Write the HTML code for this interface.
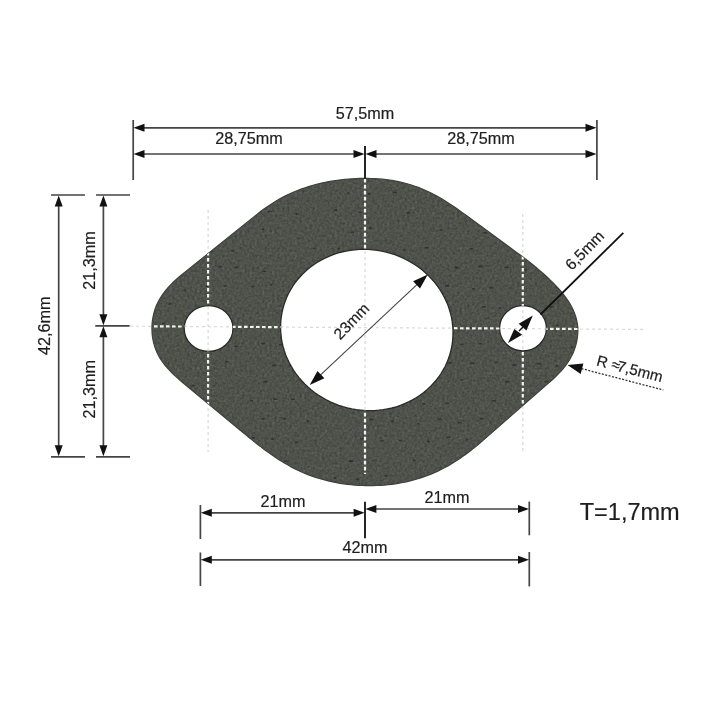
<!DOCTYPE html>
<html><head><meta charset="utf-8"><style>
html,body{margin:0;padding:0;background:#fff;width:720px;height:720px;overflow:hidden}
svg{display:block;will-change:transform;font-family:"Liberation Sans", sans-serif}
</style></head><body>
<svg width="720" height="720" viewBox="0 0 720 720"><g stroke="#d9d9d9" stroke-width="1.2" fill="none" stroke-dasharray="3 3"><line x1="130" y1="326.2" x2="644" y2="329.4"/><line x1="208.1" y1="210" x2="208.1" y2="452"/><line x1="522.8" y1="214" x2="522.8" y2="454"/><line x1="365" y1="179" x2="365" y2="474"/></g>
<defs><clipPath id="gc"><path d="M344.8 179.4 L348.5 179.0 L352.2 178.8 L356.0 178.6 L359.8 178.4 L363.5 178.4 L367.3 178.4 L371.1 178.5 L374.8 178.6 L378.6 178.9 L382.3 179.2 L386.0 179.6 L389.7 180.1 L393.4 180.7 L397.1 181.4 L400.7 182.2 L404.3 183.0 L407.9 184.0 L411.4 185.0 L414.9 186.2 L418.3 187.4 L421.7 188.8 L425.1 190.2 L428.4 191.7 L431.6 193.3 L434.9 195.0 L438.1 196.8 L441.3 198.6 L444.4 200.5 L447.5 202.5 L450.6 204.5 L453.7 206.5 L456.7 208.6 L459.7 210.8 L462.7 212.9 L465.7 215.1 L516.6 252.4 L519.6 254.5 L522.5 256.7 L525.4 259.0 L528.4 261.2 L531.3 263.5 L534.1 265.8 L537.0 268.2 L539.8 270.6 L542.6 273.0 L545.4 275.5 L548.1 278.0 L550.8 280.6 L553.4 283.2 L556.0 285.9 L558.6 288.7 L561.0 291.5 L563.4 294.4 L565.6 297.3 L567.8 300.4 L569.7 303.4 L571.5 306.6 L573.1 309.8 L574.5 313.1 L575.7 316.5 L576.6 319.9 L577.3 323.4 L577.8 327.0 L577.9 330.7 L577.7 334.4 L577.3 338.2 L576.6 342.0 L575.7 345.7 L574.5 349.4 L573.1 352.9 L571.4 356.3 L569.6 359.6 L567.6 362.7 L565.5 365.7 L563.2 368.5 L560.8 371.3 L558.3 373.9 L555.7 376.5 L553.1 379.0 L550.3 381.5 L547.6 383.9 L483.6 439.9 L480.8 442.3 L477.9 444.7 L475.1 447.1 L472.2 449.4 L469.2 451.7 L466.2 453.9 L463.2 456.1 L460.2 458.2 L457.1 460.3 L453.9 462.3 L450.8 464.2 L447.6 466.1 L444.3 467.8 L441.1 469.5 L437.8 471.2 L434.4 472.7 L431.0 474.1 L427.6 475.5 L424.1 476.7 L420.6 477.9 L417.1 479.0 L413.6 480.0 L410.0 480.9 L406.4 481.8 L402.8 482.5 L399.2 483.2 L395.5 483.8 L391.8 484.3 L388.2 484.7 L384.5 485.1 L380.8 485.3 L377.0 485.5 L373.3 485.6 L369.6 485.7 L365.9 485.6 L362.2 485.5 L358.5 485.3 L354.8 485.1 L351.1 484.7 L347.4 484.3 L343.7 483.8 L340.0 483.3 L336.4 482.6 L332.7 481.9 L329.1 481.1 L325.5 480.2 L321.9 479.2 L318.4 478.2 L314.9 477.1 L311.4 475.9 L307.9 474.6 L304.5 473.2 L301.1 471.7 L297.8 470.2 L294.5 468.6 L291.2 466.9 L288.0 465.1 L284.8 463.2 L281.6 461.3 L278.5 459.4 L275.4 457.3 L272.4 455.2 L269.3 453.1 L266.3 450.9 L263.3 448.7 L260.4 446.4 L257.4 444.2 L254.5 441.9 L251.6 439.6 L248.7 437.2 L245.9 434.9 L243.0 432.5 L183.2 383.0 L180.3 380.6 L177.6 378.1 L174.8 375.6 L172.1 373.1 L169.6 370.4 L167.1 367.7 L164.7 364.9 L162.5 362.0 L160.4 359.0 L158.6 355.8 L157.0 352.5 L155.6 349.1 L154.4 345.6 L153.5 342.1 L152.7 338.4 L152.2 334.7 L152.0 331.0 L151.9 327.3 L152.1 323.6 L152.5 319.9 L153.2 316.2 L154.0 312.6 L155.1 309.0 L156.4 305.6 L158.0 302.2 L159.7 299.0 L161.7 295.9 L163.8 292.9 L166.1 289.9 L168.5 287.1 L171.1 284.4 L173.7 281.8 L176.5 279.3 L179.3 276.8 L182.1 274.5 L254.4 216.4 L257.3 214.1 L260.2 211.8 L263.2 209.6 L266.2 207.5 L269.2 205.4 L272.3 203.4 L275.4 201.4 L278.5 199.6 L281.7 197.8 L285.0 196.1 L288.2 194.5 L291.5 193.0 L294.9 191.5 L298.2 190.2 L301.7 188.9 L305.1 187.7 L308.6 186.6 L312.1 185.5 L315.6 184.5 L319.2 183.7 L322.8 182.8 L326.4 182.1 L330.0 181.4 L333.7 180.8 L337.3 180.3 L341.0 179.8Z M450.8 351.0 L449.7 355.0 L448.3 359.0 L446.8 362.9 L445.0 366.7 L442.9 370.4 L440.7 374.0 L438.3 377.5 L435.7 380.8 L432.8 384.0 L429.9 387.1 L426.7 390.0 L423.4 392.7 L419.9 395.3 L416.2 397.7 L412.5 399.9 L408.6 401.9 L404.6 403.7 L400.5 405.3 L396.3 406.8 L392.0 408.0 L387.6 408.9 L383.2 409.7 L378.8 410.2 L374.3 410.6 L369.8 410.7 L365.3 410.6 L360.8 410.2 L356.3 409.7 L351.8 408.9 L347.4 407.9 L343.0 406.7 L338.7 405.3 L334.5 403.7 L330.3 401.9 L326.3 399.8 L322.4 397.6 L318.6 395.2 L314.9 392.7 L311.3 389.9 L308.0 387.0 L304.7 383.9 L301.7 380.7 L298.8 377.4 L296.1 373.9 L293.6 370.3 L291.4 366.6 L289.3 362.8 L287.4 358.8 L285.7 354.9 L284.3 350.8 L283.1 346.7 L282.1 342.6 L281.4 338.4 L280.9 334.2 L280.6 329.9 L280.6 325.7 L280.8 321.5 L281.2 317.3 L281.9 313.2 L282.8 309.0 L283.9 305.0 L285.3 301.0 L286.8 297.1 L288.6 293.3 L290.7 289.6 L292.9 286.0 L295.3 282.5 L297.9 279.2 L300.8 276.0 L303.7 272.9 L306.9 270.0 L310.2 267.3 L313.7 264.7 L317.4 262.3 L321.1 260.1 L325.0 258.1 L329.0 256.3 L333.1 254.7 L337.3 253.2 L341.6 252.0 L346.0 251.1 L350.4 250.3 L354.8 249.8 L359.3 249.4 L363.8 249.3 L368.3 249.4 L372.8 249.8 L377.3 250.3 L381.8 251.1 L386.2 252.1 L390.6 253.3 L394.9 254.7 L399.1 256.3 L403.3 258.1 L407.3 260.2 L411.2 262.4 L415.0 264.8 L418.7 267.3 L422.3 270.1 L425.6 273.0 L428.9 276.1 L431.9 279.3 L434.8 282.6 L437.5 286.1 L440.0 289.7 L442.2 293.4 L444.3 297.2 L446.2 301.2 L447.9 305.1 L449.3 309.2 L450.5 313.3 L451.5 317.4 L452.2 321.6 L452.7 325.8 L453.0 330.1 L453.0 334.3 L452.8 338.5 L452.4 342.7 L451.7 346.8Z M184.2 328.5 a24.4 22.9 0 1 0 48.8 0 a24.4 22.9 0 1 0 -48.8 0Z M499.6 328.3 a23.4 22.6 0 1 0 46.8 0 a23.4 22.6 0 1 0 -46.8 0Z" clip-rule="evenodd"/></clipPath><filter id="nz" x="0" y="0" width="1" height="1" color-interpolation-filters="sRGB"><feTurbulence type="fractalNoise" baseFrequency="0.4" numOctaves="3" seed="5"/><feColorMatrix type="matrix" values="0.100 0.100 0.100 0 0.1559  0.100 0.100 0.100 0 0.1716  0.100 0.100 0.100 0 0.1441  0 0 0 0 1"/></filter></defs>
<g clip-path="url(#gc)"><rect x="140" y="170" width="450" height="330" filter="url(#nz)"/>
<g fill="#262824" opacity="0.7"><rect x="168.6" y="192.2" width="2.6" height="1.6" rx="0.6"/><rect x="194.1" y="189.2" width="2.6" height="1.6" rx="0.6"/><rect x="263.6" y="192.5" width="4.5" height="1.6" rx="0.6"/><rect x="278.4" y="194.2" width="2.8" height="1.6" rx="0.6"/><rect x="347.0" y="192.3" width="2.6" height="1.6" rx="0.6"/><rect x="367.6" y="193.1" width="3.1" height="1.6" rx="0.6"/><rect x="392.7" y="191.7" width="4.1" height="1.6" rx="0.6"/><rect x="456.3" y="194.9" width="3.3" height="1.6" rx="0.6"/><rect x="482.1" y="189.9" width="2.6" height="1.6" rx="0.6"/><rect x="546.8" y="192.5" width="4.2" height="1.6" rx="0.6"/><rect x="186.9" y="212.9" width="3.3" height="1.6" rx="0.6"/><rect x="206.3" y="208.1" width="2.8" height="1.6" rx="0.6"/><rect x="246.0" y="209.5" width="4.2" height="1.6" rx="0.6"/><rect x="267.6" y="210.7" width="4.3" height="1.6" rx="0.6"/><rect x="295.6" y="213.2" width="3.3" height="1.6" rx="0.6"/><rect x="334.2" y="209.1" width="3.0" height="1.6" rx="0.6"/><rect x="358.9" y="211.5" width="2.5" height="1.6" rx="0.6"/><rect x="406.6" y="212.1" width="3.7" height="1.6" rx="0.6"/><rect x="468.1" y="210.4" width="3.8" height="1.6" rx="0.6"/><rect x="487.5" y="208.4" width="2.8" height="1.6" rx="0.6"/><rect x="511.7" y="208.3" width="2.8" height="1.6" rx="0.6"/><rect x="531.8" y="210.2" width="4.2" height="1.6" rx="0.6"/><rect x="557.9" y="208.9" width="3.2" height="1.6" rx="0.6"/><rect x="153.9" y="229.8" width="2.7" height="1.6" rx="0.6"/><rect x="168.8" y="229.1" width="4.2" height="1.6" rx="0.6"/><rect x="216.2" y="227.9" width="2.6" height="1.6" rx="0.6"/><rect x="261.6" y="228.6" width="2.8" height="1.6" rx="0.6"/><rect x="350.5" y="231.4" width="3.5" height="1.6" rx="0.6"/><rect x="368.8" y="227.2" width="3.1" height="1.6" rx="0.6"/><rect x="439.6" y="229.2" width="3.0" height="1.6" rx="0.6"/><rect x="483.2" y="232.0" width="3.8" height="1.6" rx="0.6"/><rect x="184.8" y="247.0" width="2.8" height="1.6" rx="0.6"/><rect x="208.2" y="250.8" width="4.2" height="1.6" rx="0.6"/><rect x="230.8" y="249.9" width="3.6" height="1.6" rx="0.6"/><rect x="312.7" y="247.5" width="3.0" height="1.6" rx="0.6"/><rect x="337.7" y="247.6" width="2.8" height="1.6" rx="0.6"/><rect x="362.3" y="248.1" width="3.7" height="1.6" rx="0.6"/><rect x="403.0" y="249.2" width="2.5" height="1.6" rx="0.6"/><rect x="424.5" y="247.1" width="4.1" height="1.6" rx="0.6"/><rect x="469.5" y="248.0" width="3.6" height="1.6" rx="0.6"/><rect x="149.6" y="268.2" width="4.4" height="1.6" rx="0.6"/><rect x="218.7" y="265.8" width="3.4" height="1.6" rx="0.6"/><rect x="234.6" y="266.4" width="3.8" height="1.6" rx="0.6"/><rect x="262.3" y="270.4" width="3.9" height="1.6" rx="0.6"/><rect x="350.7" y="266.0" width="3.5" height="1.6" rx="0.6"/><rect x="368.7" y="266.2" width="3.9" height="1.6" rx="0.6"/><rect x="388.2" y="268.3" width="2.5" height="1.6" rx="0.6"/><rect x="412.7" y="268.7" width="2.6" height="1.6" rx="0.6"/><rect x="454.8" y="266.6" width="4.1" height="1.6" rx="0.6"/><rect x="478.2" y="265.8" width="4.3" height="1.6" rx="0.6"/><rect x="504.6" y="266.6" width="4.3" height="1.6" rx="0.6"/><rect x="524.6" y="269.2" width="2.6" height="1.6" rx="0.6"/><rect x="547.5" y="267.6" width="4.4" height="1.6" rx="0.6"/><rect x="569.1" y="269.8" width="4.2" height="1.6" rx="0.6"/><rect x="157.5" y="289.2" width="3.2" height="1.6" rx="0.6"/><rect x="183.4" y="289.6" width="2.8" height="1.6" rx="0.6"/><rect x="205.2" y="285.4" width="2.8" height="1.6" rx="0.6"/><rect x="223.4" y="285.2" width="3.1" height="1.6" rx="0.6"/><rect x="251.1" y="285.7" width="2.9" height="1.6" rx="0.6"/><rect x="269.8" y="284.1" width="2.5" height="1.6" rx="0.6"/><rect x="294.9" y="287.3" width="3.4" height="1.6" rx="0.6"/><rect x="404.7" y="287.8" width="3.2" height="1.6" rx="0.6"/><rect x="421.4" y="284.8" width="4.0" height="1.6" rx="0.6"/><rect x="445.0" y="285.0" width="4.2" height="1.6" rx="0.6"/><rect x="472.0" y="288.0" width="3.0" height="1.6" rx="0.6"/><rect x="489.3" y="286.8" width="3.4" height="1.6" rx="0.6"/><rect x="555.5" y="286.1" width="3.3" height="1.6" rx="0.6"/><rect x="578.8" y="287.0" width="3.5" height="1.6" rx="0.6"/><rect x="146.0" y="304.6" width="3.3" height="1.6" rx="0.6"/><rect x="168.3" y="303.1" width="3.0" height="1.6" rx="0.6"/><rect x="323.1" y="306.1" width="4.2" height="1.6" rx="0.6"/><rect x="389.8" y="303.2" width="3.2" height="1.6" rx="0.6"/><rect x="482.0" y="306.0" width="3.8" height="1.6" rx="0.6"/><rect x="498.5" y="307.4" width="2.6" height="1.6" rx="0.6"/><rect x="522.1" y="307.4" width="4.0" height="1.6" rx="0.6"/><rect x="549.8" y="306.0" width="3.5" height="1.6" rx="0.6"/><rect x="162.1" y="322.5" width="3.0" height="1.6" rx="0.6"/><rect x="201.1" y="322.4" width="3.8" height="1.6" rx="0.6"/><rect x="228.5" y="326.1" width="3.5" height="1.6" rx="0.6"/><rect x="248.7" y="324.8" width="4.3" height="1.6" rx="0.6"/><rect x="318.7" y="324.7" width="2.9" height="1.6" rx="0.6"/><rect x="378.1" y="326.9" width="4.3" height="1.6" rx="0.6"/><rect x="424.9" y="322.1" width="3.5" height="1.6" rx="0.6"/><rect x="446.6" y="323.8" width="3.2" height="1.6" rx="0.6"/><rect x="467.5" y="327.0" width="4.0" height="1.6" rx="0.6"/><rect x="514.7" y="327.4" width="3.2" height="1.6" rx="0.6"/><rect x="555.9" y="324.6" width="2.6" height="1.6" rx="0.6"/><rect x="575.8" y="327.0" width="4.4" height="1.6" rx="0.6"/><rect x="148.0" y="342.6" width="2.9" height="1.6" rx="0.6"/><rect x="234.4" y="345.4" width="4.0" height="1.6" rx="0.6"/><rect x="261.2" y="342.7" width="4.4" height="1.6" rx="0.6"/><rect x="279.0" y="343.8" width="3.1" height="1.6" rx="0.6"/><rect x="305.9" y="346.9" width="3.8" height="1.6" rx="0.6"/><rect x="324.4" y="344.3" width="2.8" height="1.6" rx="0.6"/><rect x="396.0" y="343.7" width="2.9" height="1.6" rx="0.6"/><rect x="410.7" y="343.1" width="3.0" height="1.6" rx="0.6"/><rect x="460.0" y="343.5" width="3.5" height="1.6" rx="0.6"/><rect x="479.0" y="343.0" width="3.1" height="1.6" rx="0.6"/><rect x="505.7" y="341.8" width="3.8" height="1.6" rx="0.6"/><rect x="526.9" y="342.3" width="3.0" height="1.6" rx="0.6"/><rect x="570.8" y="346.2" width="2.6" height="1.6" rx="0.6"/><rect x="162.7" y="365.4" width="3.7" height="1.6" rx="0.6"/><rect x="225.0" y="360.7" width="3.5" height="1.6" rx="0.6"/><rect x="272.2" y="364.6" width="3.6" height="1.6" rx="0.6"/><rect x="289.3" y="364.7" width="4.3" height="1.6" rx="0.6"/><rect x="316.2" y="361.8" width="3.0" height="1.6" rx="0.6"/><rect x="338.1" y="364.2" width="2.6" height="1.6" rx="0.6"/><rect x="359.2" y="363.5" width="2.9" height="1.6" rx="0.6"/><rect x="381.8" y="360.1" width="3.4" height="1.6" rx="0.6"/><rect x="424.8" y="361.4" width="4.4" height="1.6" rx="0.6"/><rect x="448.6" y="361.8" width="3.5" height="1.6" rx="0.6"/><rect x="470.4" y="362.5" width="3.8" height="1.6" rx="0.6"/><rect x="494.4" y="361.4" width="3.2" height="1.6" rx="0.6"/><rect x="512.4" y="364.1" width="4.1" height="1.6" rx="0.6"/><rect x="536.9" y="363.0" width="4.4" height="1.6" rx="0.6"/><rect x="555.5" y="364.9" width="2.9" height="1.6" rx="0.6"/><rect x="150.0" y="380.1" width="3.3" height="1.6" rx="0.6"/><rect x="173.3" y="384.7" width="3.3" height="1.6" rx="0.6"/><rect x="191.7" y="384.8" width="2.6" height="1.6" rx="0.6"/><rect x="263.5" y="381.0" width="4.4" height="1.6" rx="0.6"/><rect x="303.0" y="381.2" width="2.8" height="1.6" rx="0.6"/><rect x="322.0" y="380.7" width="4.4" height="1.6" rx="0.6"/><rect x="345.0" y="384.8" width="3.2" height="1.6" rx="0.6"/><rect x="372.6" y="383.9" width="2.6" height="1.6" rx="0.6"/><rect x="460.1" y="379.2" width="2.6" height="1.6" rx="0.6"/><rect x="505.2" y="381.0" width="4.4" height="1.6" rx="0.6"/><rect x="544.5" y="380.7" width="4.0" height="1.6" rx="0.6"/><rect x="157.2" y="399.4" width="4.4" height="1.6" rx="0.6"/><rect x="186.6" y="400.3" width="3.4" height="1.6" rx="0.6"/><rect x="204.9" y="403.6" width="4.1" height="1.6" rx="0.6"/><rect x="249.9" y="400.0" width="3.2" height="1.6" rx="0.6"/><rect x="273.3" y="398.5" width="4.0" height="1.6" rx="0.6"/><rect x="291.0" y="398.4" width="3.6" height="1.6" rx="0.6"/><rect x="340.9" y="399.6" width="2.7" height="1.6" rx="0.6"/><rect x="359.0" y="402.3" width="3.0" height="1.6" rx="0.6"/><rect x="422.0" y="403.0" width="3.6" height="1.6" rx="0.6"/><rect x="446.0" y="402.4" width="3.0" height="1.6" rx="0.6"/><rect x="491.6" y="400.0" width="4.5" height="1.6" rx="0.6"/><rect x="536.2" y="403.9" width="3.4" height="1.6" rx="0.6"/><rect x="575.3" y="399.8" width="2.9" height="1.6" rx="0.6"/><rect x="171.0" y="422.2" width="3.0" height="1.6" rx="0.6"/><rect x="196.2" y="422.7" width="3.7" height="1.6" rx="0.6"/><rect x="217.0" y="418.3" width="2.8" height="1.6" rx="0.6"/><rect x="261.2" y="418.2" width="3.2" height="1.6" rx="0.6"/><rect x="283.4" y="418.1" width="2.9" height="1.6" rx="0.6"/><rect x="306.4" y="420.3" width="2.7" height="1.6" rx="0.6"/><rect x="369.3" y="418.7" width="4.4" height="1.6" rx="0.6"/><rect x="390.5" y="420.4" width="3.3" height="1.6" rx="0.6"/><rect x="416.9" y="423.0" width="2.9" height="1.6" rx="0.6"/><rect x="437.8" y="418.2" width="4.3" height="1.6" rx="0.6"/><rect x="457.4" y="421.9" width="4.3" height="1.6" rx="0.6"/><rect x="479.7" y="418.0" width="3.6" height="1.6" rx="0.6"/><rect x="503.1" y="422.5" width="3.7" height="1.6" rx="0.6"/><rect x="523.0" y="420.0" width="3.1" height="1.6" rx="0.6"/><rect x="546.2" y="422.6" width="3.5" height="1.6" rx="0.6"/><rect x="570.4" y="422.8" width="2.8" height="1.6" rx="0.6"/><rect x="164.5" y="441.9" width="2.6" height="1.6" rx="0.6"/><rect x="206.0" y="440.9" width="4.1" height="1.6" rx="0.6"/><rect x="251.6" y="437.1" width="3.3" height="1.6" rx="0.6"/><rect x="271.1" y="438.3" width="3.0" height="1.6" rx="0.6"/><rect x="294.8" y="441.4" width="3.6" height="1.6" rx="0.6"/><rect x="360.0" y="437.8" width="3.7" height="1.6" rx="0.6"/><rect x="380.4" y="440.0" width="3.4" height="1.6" rx="0.6"/><rect x="399.2" y="439.7" width="3.0" height="1.6" rx="0.6"/><rect x="427.1" y="440.7" width="2.9" height="1.6" rx="0.6"/><rect x="446.8" y="436.6" width="3.4" height="1.6" rx="0.6"/><rect x="465.7" y="438.7" width="2.6" height="1.6" rx="0.6"/><rect x="515.2" y="439.1" width="3.5" height="1.6" rx="0.6"/><rect x="534.0" y="441.7" width="4.2" height="1.6" rx="0.6"/><rect x="576.5" y="441.9" width="4.4" height="1.6" rx="0.6"/><rect x="175.4" y="455.4" width="4.0" height="1.6" rx="0.6"/><rect x="191.3" y="460.4" width="4.1" height="1.6" rx="0.6"/><rect x="235.7" y="456.6" width="3.1" height="1.6" rx="0.6"/><rect x="256.3" y="456.1" width="4.4" height="1.6" rx="0.6"/><rect x="283.4" y="460.4" width="4.1" height="1.6" rx="0.6"/><rect x="348.6" y="460.3" width="4.5" height="1.6" rx="0.6"/><rect x="412.9" y="459.6" width="2.9" height="1.6" rx="0.6"/><rect x="480.7" y="459.0" width="2.5" height="1.6" rx="0.6"/><rect x="564.2" y="455.0" width="2.7" height="1.6" rx="0.6"/><rect x="224.9" y="474.9" width="3.8" height="1.6" rx="0.6"/><rect x="252.0" y="478.7" width="3.0" height="1.6" rx="0.6"/><rect x="291.8" y="477.9" width="4.4" height="1.6" rx="0.6"/><rect x="333.4" y="477.2" width="3.0" height="1.6" rx="0.6"/><rect x="355.5" y="478.7" width="3.6" height="1.6" rx="0.6"/><rect x="384.5" y="474.9" width="3.7" height="1.6" rx="0.6"/><rect x="422.4" y="475.9" width="2.6" height="1.6" rx="0.6"/><rect x="490.7" y="478.5" width="3.0" height="1.6" rx="0.6"/><rect x="509.8" y="475.4" width="3.2" height="1.6" rx="0.6"/><rect x="578.5" y="478.7" width="3.0" height="1.6" rx="0.6"/></g></g>
<path d="M344.8 179.4 L348.5 179.0 L352.2 178.8 L356.0 178.6 L359.8 178.4 L363.5 178.4 L367.3 178.4 L371.1 178.5 L374.8 178.6 L378.6 178.9 L382.3 179.2 L386.0 179.6 L389.7 180.1 L393.4 180.7 L397.1 181.4 L400.7 182.2 L404.3 183.0 L407.9 184.0 L411.4 185.0 L414.9 186.2 L418.3 187.4 L421.7 188.8 L425.1 190.2 L428.4 191.7 L431.6 193.3 L434.9 195.0 L438.1 196.8 L441.3 198.6 L444.4 200.5 L447.5 202.5 L450.6 204.5 L453.7 206.5 L456.7 208.6 L459.7 210.8 L462.7 212.9 L465.7 215.1 L516.6 252.4 L519.6 254.5 L522.5 256.7 L525.4 259.0 L528.4 261.2 L531.3 263.5 L534.1 265.8 L537.0 268.2 L539.8 270.6 L542.6 273.0 L545.4 275.5 L548.1 278.0 L550.8 280.6 L553.4 283.2 L556.0 285.9 L558.6 288.7 L561.0 291.5 L563.4 294.4 L565.6 297.3 L567.8 300.4 L569.7 303.4 L571.5 306.6 L573.1 309.8 L574.5 313.1 L575.7 316.5 L576.6 319.9 L577.3 323.4 L577.8 327.0 L577.9 330.7 L577.7 334.4 L577.3 338.2 L576.6 342.0 L575.7 345.7 L574.5 349.4 L573.1 352.9 L571.4 356.3 L569.6 359.6 L567.6 362.7 L565.5 365.7 L563.2 368.5 L560.8 371.3 L558.3 373.9 L555.7 376.5 L553.1 379.0 L550.3 381.5 L547.6 383.9 L483.6 439.9 L480.8 442.3 L477.9 444.7 L475.1 447.1 L472.2 449.4 L469.2 451.7 L466.2 453.9 L463.2 456.1 L460.2 458.2 L457.1 460.3 L453.9 462.3 L450.8 464.2 L447.6 466.1 L444.3 467.8 L441.1 469.5 L437.8 471.2 L434.4 472.7 L431.0 474.1 L427.6 475.5 L424.1 476.7 L420.6 477.9 L417.1 479.0 L413.6 480.0 L410.0 480.9 L406.4 481.8 L402.8 482.5 L399.2 483.2 L395.5 483.8 L391.8 484.3 L388.2 484.7 L384.5 485.1 L380.8 485.3 L377.0 485.5 L373.3 485.6 L369.6 485.7 L365.9 485.6 L362.2 485.5 L358.5 485.3 L354.8 485.1 L351.1 484.7 L347.4 484.3 L343.7 483.8 L340.0 483.3 L336.4 482.6 L332.7 481.9 L329.1 481.1 L325.5 480.2 L321.9 479.2 L318.4 478.2 L314.9 477.1 L311.4 475.9 L307.9 474.6 L304.5 473.2 L301.1 471.7 L297.8 470.2 L294.5 468.6 L291.2 466.9 L288.0 465.1 L284.8 463.2 L281.6 461.3 L278.5 459.4 L275.4 457.3 L272.4 455.2 L269.3 453.1 L266.3 450.9 L263.3 448.7 L260.4 446.4 L257.4 444.2 L254.5 441.9 L251.6 439.6 L248.7 437.2 L245.9 434.9 L243.0 432.5 L183.2 383.0 L180.3 380.6 L177.6 378.1 L174.8 375.6 L172.1 373.1 L169.6 370.4 L167.1 367.7 L164.7 364.9 L162.5 362.0 L160.4 359.0 L158.6 355.8 L157.0 352.5 L155.6 349.1 L154.4 345.6 L153.5 342.1 L152.7 338.4 L152.2 334.7 L152.0 331.0 L151.9 327.3 L152.1 323.6 L152.5 319.9 L153.2 316.2 L154.0 312.6 L155.1 309.0 L156.4 305.6 L158.0 302.2 L159.7 299.0 L161.7 295.9 L163.8 292.9 L166.1 289.9 L168.5 287.1 L171.1 284.4 L173.7 281.8 L176.5 279.3 L179.3 276.8 L182.1 274.5 L254.4 216.4 L257.3 214.1 L260.2 211.8 L263.2 209.6 L266.2 207.5 L269.2 205.4 L272.3 203.4 L275.4 201.4 L278.5 199.6 L281.7 197.8 L285.0 196.1 L288.2 194.5 L291.5 193.0 L294.9 191.5 L298.2 190.2 L301.7 188.9 L305.1 187.7 L308.6 186.6 L312.1 185.5 L315.6 184.5 L319.2 183.7 L322.8 182.8 L326.4 182.1 L330.0 181.4 L333.7 180.8 L337.3 180.3 L341.0 179.8Z" fill="none" stroke="#3e403b" stroke-width="1.2"/>
<path d="M450.8 351.0 L449.7 355.0 L448.3 359.0 L446.8 362.9 L445.0 366.7 L442.9 370.4 L440.7 374.0 L438.3 377.5 L435.7 380.8 L432.8 384.0 L429.9 387.1 L426.7 390.0 L423.4 392.7 L419.9 395.3 L416.2 397.7 L412.5 399.9 L408.6 401.9 L404.6 403.7 L400.5 405.3 L396.3 406.8 L392.0 408.0 L387.6 408.9 L383.2 409.7 L378.8 410.2 L374.3 410.6 L369.8 410.7 L365.3 410.6 L360.8 410.2 L356.3 409.7 L351.8 408.9 L347.4 407.9 L343.0 406.7 L338.7 405.3 L334.5 403.7 L330.3 401.9 L326.3 399.8 L322.4 397.6 L318.6 395.2 L314.9 392.7 L311.3 389.9 L308.0 387.0 L304.7 383.9 L301.7 380.7 L298.8 377.4 L296.1 373.9 L293.6 370.3 L291.4 366.6 L289.3 362.8 L287.4 358.8 L285.7 354.9 L284.3 350.8 L283.1 346.7 L282.1 342.6 L281.4 338.4 L280.9 334.2 L280.6 329.9 L280.6 325.7 L280.8 321.5 L281.2 317.3 L281.9 313.2 L282.8 309.0 L283.9 305.0 L285.3 301.0 L286.8 297.1 L288.6 293.3 L290.7 289.6 L292.9 286.0 L295.3 282.5 L297.9 279.2 L300.8 276.0 L303.7 272.9 L306.9 270.0 L310.2 267.3 L313.7 264.7 L317.4 262.3 L321.1 260.1 L325.0 258.1 L329.0 256.3 L333.1 254.7 L337.3 253.2 L341.6 252.0 L346.0 251.1 L350.4 250.3 L354.8 249.8 L359.3 249.4 L363.8 249.3 L368.3 249.4 L372.8 249.8 L377.3 250.3 L381.8 251.1 L386.2 252.1 L390.6 253.3 L394.9 254.7 L399.1 256.3 L403.3 258.1 L407.3 260.2 L411.2 262.4 L415.0 264.8 L418.7 267.3 L422.3 270.1 L425.6 273.0 L428.9 276.1 L431.9 279.3 L434.8 282.6 L437.5 286.1 L440.0 289.7 L442.2 293.4 L444.3 297.2 L446.2 301.2 L447.9 305.1 L449.3 309.2 L450.5 313.3 L451.5 317.4 L452.2 321.6 L452.7 325.8 L453.0 330.1 L453.0 334.3 L452.8 338.5 L452.4 342.7 L451.7 346.8Z" fill="none" stroke="#2a2b28" stroke-width="1.3"/>
<path d="M184.2 328.5 a24.4 22.9 0 1 0 48.8 0 a24.4 22.9 0 1 0 -48.8 0Z" fill="none" stroke="#2a2b28" stroke-width="1.3"/>
<path d="M499.6 328.3 a23.4 22.6 0 1 0 46.8 0 a23.4 22.6 0 1 0 -46.8 0Z" fill="none" stroke="#2a2b28" stroke-width="1.3"/>
<g clip-path="url(#gc)" stroke="#f2f2f0" stroke-width="2.2" fill="none" stroke-dasharray="3.6 2.4"><line x1="130" y1="326.2" x2="644" y2="329.4"/><line x1="208.1" y1="210" x2="208.1" y2="452"/><line x1="522.8" y1="214" x2="522.8" y2="454"/><line x1="365" y1="178.8" x2="365" y2="474"/></g>
<line x1="133.2" y1="120.0" x2="133.2" y2="180.0" stroke="#444" stroke-width="1.70"/>
<line x1="596.9" y1="120.0" x2="596.9" y2="180.0" stroke="#444" stroke-width="1.70"/>
<line x1="365.0" y1="146.0" x2="365.0" y2="179.0" stroke="#252525" stroke-width="2.00"/>
<line x1="140.0" y1="127.8" x2="590.0" y2="127.8" stroke="#444" stroke-width="1.70"/>
<path d="M133.5 127.8 L144.5 123.8 L144.5 131.8 Z" fill="#111"/>
<path d="M596.5 127.8 L585.5 131.8 L585.5 123.8 Z" fill="#111"/>
<line x1="140.0" y1="154.0" x2="358.0" y2="154.0" stroke="#444" stroke-width="1.70"/>
<line x1="372.0" y1="154.0" x2="590.0" y2="154.0" stroke="#444" stroke-width="1.70"/>
<path d="M133.5 154.0 L144.5 150.0 L144.5 158.0 Z" fill="#111"/>
<path d="M364.5 154.0 L353.5 158.0 L353.5 150.0 Z" fill="#111"/>
<path d="M365.5 154.0 L376.5 150.0 L376.5 158.0 Z" fill="#111"/>
<path d="M596.5 154.0 L585.5 158.0 L585.5 150.0 Z" fill="#111"/>
<text x="365.0" y="118.9" font-size="16.20" text-anchor="middle" fill="#1e1e1e" stroke="#1e1e1e" stroke-width="0.2">57,5mm</text>
<text x="249.0" y="144.4" font-size="16.20" text-anchor="middle" fill="#1e1e1e" stroke="#1e1e1e" stroke-width="0.2">28,75mm</text>
<text x="481.0" y="144.4" font-size="16.20" text-anchor="middle" fill="#1e1e1e" stroke="#1e1e1e" stroke-width="0.2">28,75mm</text>
<line x1="51.0" y1="195.0" x2="85.0" y2="195.0" stroke="#444" stroke-width="1.70"/>
<line x1="96.0" y1="195.0" x2="130.0" y2="195.0" stroke="#444" stroke-width="1.70"/>
<line x1="51.0" y1="456.8" x2="85.0" y2="456.8" stroke="#444" stroke-width="1.70"/>
<line x1="96.0" y1="456.8" x2="130.0" y2="456.8" stroke="#444" stroke-width="1.70"/>
<line x1="95.3" y1="325.8" x2="129.6" y2="325.8" stroke="#444" stroke-width="1.70"/>
<line x1="58.7" y1="200.0" x2="58.7" y2="452.0" stroke="#444" stroke-width="1.70"/>
<line x1="103.4" y1="200.0" x2="103.4" y2="320.0" stroke="#444" stroke-width="1.70"/>
<line x1="103.4" y1="331.0" x2="103.4" y2="452.0" stroke="#444" stroke-width="1.70"/>
<path d="M58.7 195.5 L62.7 206.5 L54.7 206.5 Z" fill="#111"/>
<path d="M58.7 456.3 L54.7 445.3 L62.7 445.3 Z" fill="#111"/>
<path d="M103.4 195.5 L107.4 206.5 L99.4 206.5 Z" fill="#111"/>
<path d="M103.4 325.3 L99.4 314.3 L107.4 314.3 Z" fill="#111"/>
<path d="M103.4 326.3 L107.4 337.3 L99.4 337.3 Z" fill="#111"/>
<path d="M103.4 456.3 L99.4 445.3 L107.4 445.3 Z" fill="#111"/>
<text x="49.9" y="325.8" font-size="16.20" text-anchor="middle" fill="#1e1e1e" transform="rotate(-90.00 49.9 325.8)" stroke="#1e1e1e" stroke-width="0.2">42,6mm</text>
<text x="94.6" y="260.6" font-size="16.20" text-anchor="middle" fill="#1e1e1e" transform="rotate(-90.00 94.6 260.6)" stroke="#1e1e1e" stroke-width="0.2">21,3mm</text>
<text x="94.6" y="389.3" font-size="16.20" text-anchor="middle" fill="#1e1e1e" transform="rotate(-90.00 94.6 389.3)" stroke="#1e1e1e" stroke-width="0.2">21,3mm</text>
<line x1="200.4" y1="505.0" x2="200.4" y2="539.0" stroke="#444" stroke-width="1.70"/>
<line x1="200.4" y1="552.5" x2="200.4" y2="586.0" stroke="#444" stroke-width="1.70"/>
<line x1="529.3" y1="501.6" x2="529.3" y2="535.3" stroke="#444" stroke-width="1.70"/>
<line x1="529.3" y1="552.0" x2="529.3" y2="586.4" stroke="#444" stroke-width="1.70"/>
<line x1="365.0" y1="501.7" x2="365.0" y2="538.3" stroke="#252525" stroke-width="2.00"/>
<line x1="205.0" y1="512.8" x2="360.0" y2="512.8" stroke="#444" stroke-width="1.70"/>
<path d="M200.8 512.8 L211.8 508.8 L211.8 516.8 Z" fill="#111"/>
<path d="M364.6 512.8 L353.6 516.8 L353.6 508.8 Z" fill="#111"/>
<line x1="370.0" y1="509.0" x2="525.0" y2="509.0" stroke="#444" stroke-width="1.70"/>
<path d="M365.4 509.0 L376.4 505.0 L376.4 513.0 Z" fill="#111"/>
<path d="M529.0 509.0 L518.0 513.0 L518.0 505.0 Z" fill="#111"/>
<line x1="205.0" y1="559.8" x2="525.0" y2="559.8" stroke="#444" stroke-width="1.70"/>
<path d="M200.8 559.8 L211.8 555.8 L211.8 563.8 Z" fill="#111"/>
<path d="M529.0 559.8 L518.0 563.8 L518.0 555.8 Z" fill="#111"/>
<text x="283.0" y="506.7" font-size="16.20" text-anchor="middle" fill="#1e1e1e" stroke="#1e1e1e" stroke-width="0.2">21mm</text>
<text x="447.0" y="502.7" font-size="16.20" text-anchor="middle" fill="#1e1e1e" stroke="#1e1e1e" stroke-width="0.2">21mm</text>
<text x="365.0" y="552.7" font-size="16.20" text-anchor="middle" fill="#1e1e1e" stroke="#1e1e1e" stroke-width="0.2">42mm</text>
<text x="629.7" y="519.7" font-size="23.50" text-anchor="middle" fill="#1e1e1e" stroke="#1e1e1e" stroke-width="0.2">T=1,7mm</text>
<line x1="315.5" y1="379.6" x2="422.0" y2="279.9" stroke="#444" stroke-width="1.10" />
<path d="M427.8 274.4 L420.0 288.6 L413.1 281.3 Z" fill="#111"/>
<path d="M309.7 385.1 L317.5 370.9 L324.4 378.2 Z" fill="#111"/>
<text x="355.3" y="325.0" font-size="15.60" text-anchor="middle" fill="#1e1e1e" transform="rotate(-46.00 355.3 325.0)" stroke="#1e1e1e" stroke-width="0.2">23mm</text>
<line x1="540.5" y1="314.5" x2="623.3" y2="232.8" stroke="#111" stroke-width="1.80" />
<path d="M532.8 315.4 L518.7 323.7 L526.4 330.5Z" fill="#111"/>
<path d="M508 343.1 L514.3 329 L522.1 334.8Z" fill="#111"/>
<line x1="519.0" y1="331.0" x2="523.0" y2="327.0" stroke="#111" stroke-width="1.50" />
<text x="588.4" y="254.0" font-size="15.60" text-anchor="middle" fill="#1e1e1e" transform="rotate(-45.50 588.4 254.0)" stroke="#1e1e1e" stroke-width="0.2">6,5mm</text>
<line x1="581.5" y1="368.6" x2="663.3" y2="390.0" stroke="#333" stroke-width="1.30" stroke-dasharray="2 1.5"/>
<path d="M567.5 365.0 L583.4 363.4 L580.7 374.0 Z" fill="#111"/>
<text x="628.5" y="373.8" font-size="15.20" text-anchor="middle" fill="#1e1e1e" transform="rotate(14.50 628.5 373.8)" stroke="#1e1e1e" stroke-width="0.2">R &#8776;<tspan dx="-2.2">7,5mm</tspan></text></svg>
</body></html>
